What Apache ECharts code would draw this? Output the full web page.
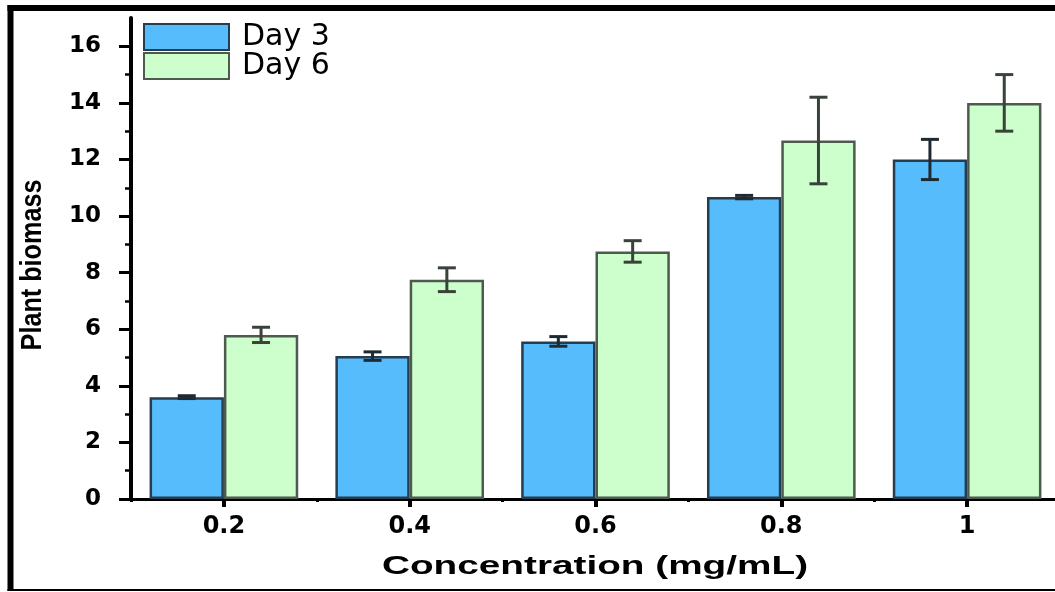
<!DOCTYPE html>
<html>
<head>
<meta charset="utf-8">
<script src="https://cdn.jsdelivr.net/npm/echarts@6/dist/echarts.min.js"></script>
<style>
html,body{margin:0;padding:0;background:#fff;overflow:hidden;width:1055px;height:592px;}
#chart{width:1061px;height:592px;}
</style>
</head>
<body>
<div id="chart"></div>
<script>
var categories = ['0.2', '0.4', '0.6', '0.8', '1'];
var day3 = [3.6, 5.05, 5.57, 10.67, 12.0];
var day3Err = [0.05, 0.15, 0.17, 0.06, 0.71];
var day6 = [5.8, 7.75, 8.75, 12.67, 14.0];
var day6Err = [0.27, 0.42, 0.38, 1.53, 1.0];
var yTicks = [0, 2, 4, 6, 8, 10, 12, 14, 16];
var xTitle = 'Concentration (mg/mL)';
var yTitle = 'Plant biomass';

function errData(vals, errs) {
  return vals.map(function (v, i) { return [i, v - errs[i], v + errs[i]]; });
}

function errRender(sign, color) {
  return function (params, api) {
    var xi = api.value(0);
    var lo = api.coord([xi, api.value(1)]);
    var hi = api.coord([xi, api.value(2)]);
    var band = api.size([1, 0])[0];
    var x = hi[0] + sign * band * 0.2;
    var cw = 9;
    var st = { stroke: color, lineWidth: 3 };
    return {
      type: 'group',
      children: [
        { type: 'line', shape: { x1: x, y1: hi[1], x2: x, y2: lo[1] }, style: st },
        { type: 'line', shape: { x1: x - cw, y1: hi[1], x2: x + cw, y2: hi[1] }, style: st },
        { type: 'line', shape: { x1: x - cw, y1: lo[1], x2: x + cw, y2: lo[1] }, style: st }
      ]
    };
  };
}

var chart = echarts.init(document.getElementById('chart'));
var option = {
  backgroundColor: '#ffffff',
  animation: false,
  grid: { left: 131, right: 1, top: 18, bottom: 93, containLabel: false },
  legend: {
    orient: 'vertical',
    left: 138,
    top: 17,
    itemWidth: 85,
    itemHeight: 26,
    itemGap: -1,
    icon: 'rect',
    data: ['Day 3', 'Day 6'],
    textStyle: { fontFamily: 'DejaVu Sans', fontSize: 30, lineHeight: 26, color: '#000', padding: [0, 0, 0, 8] }
  },
  xAxis: [
    {
      type: 'category',
      data: categories,
      position: 'bottom',
      axisLine: { show: true, lineStyle: { color: '#000', width: 3 } },
      axisTick: { show: true, alignWithLabel: true, length: 8, lineStyle: { color: '#000', width: 4 } },
      axisLabel: { color: '#000', fontFamily: 'DejaVu Sans', fontWeight: 'bold', fontSize: 24, margin: 16 },
      splitLine: { show: false }
    },
    {
      type: 'category',
      data: categories,
      position: 'bottom',
      axisLine: { show: false },
      axisTick: { show: true, length: 3, lineStyle: { color: '#000', width: 3 } },
      axisLabel: { show: false },
      splitLine: { show: false }
    }
  ],
  yAxis: {
    type: 'value',
    min: 0,
    max: 17,
    interval: 2,
    axisLine: { show: true, lineStyle: { color: '#000', width: 4 } },
    axisTick: { show: true, length: 12, customValues: yTicks, lineStyle: { color: '#000', width: 3 } },
    minorTick: { show: true, splitNumber: 2, length: 6, lineStyle: { color: '#000', width: 2.5 } },
    splitLine: { show: false },
    axisLabel: {
      color: '#000', fontFamily: 'DejaVu Sans', fontWeight: 'bold', fontSize: 23, margin: 30,
      customValues: yTicks
    }
  },
  series: [
    {
      name: 'Day 3', type: 'bar', data: day3, barWidth: '40%', barGap: '0%',
      itemStyle: { color: '#57BCFC', borderColor: '#263d4f', borderWidth: 2.5 }
    },
    {
      name: 'Day 6', type: 'bar', data: day6, barWidth: '40%', barGap: '0%',
      itemStyle: { color: '#CCFFCC', borderColor: '#4f5a4f', borderWidth: 2.5 }
    },
    {
      name: 'Day 3 error', type: 'custom', renderItem: errRender(-1, '#1f2a30'),
      data: errData(day3, day3Err), z: 5, encode: { x: 0, y: [1, 2] }
    },
    {
      name: 'Day 6 error', type: 'custom', renderItem: errRender(1, '#3a433a'),
      data: errData(day6, day6Err), z: 5, encode: { x: 0, y: [1, 2] }
    }
  ],
  graphic: [
    { type: 'line', shape: { x1: 10.5, y1: 5, x2: 10.5, y2: 591 }, style: { stroke: '#000', lineWidth: 6 } },
    { type: 'line', shape: { x1: 7.5, y1: 8, x2: 1061, y2: 8 }, style: { stroke: '#000', lineWidth: 6 } },
    { type: 'line', shape: { x1: 7.5, y1: 590, x2: 1061, y2: 590 }, style: { stroke: '#000', lineWidth: 2 } },
    {
      type: 'text', x: 595, y: 567, scaleX: 1.49,
      style: { text: xTitle, fill: '#000', fontFamily: 'Liberation Sans', fontWeight: 'bold', fontSize: 26, align: 'center', verticalAlign: 'middle' }
    },
    {
      type: 'text', x: 33, y: 265, rotation: Math.PI / 2, scaleX: 0.84,
      style: { text: yTitle, fill: '#000', fontFamily: 'Liberation Sans', fontWeight: 'bold', fontSize: 30, align: 'center', verticalAlign: 'middle' }
    }
  ]
};
chart.setOption(option);
</script>
</body>
</html>
